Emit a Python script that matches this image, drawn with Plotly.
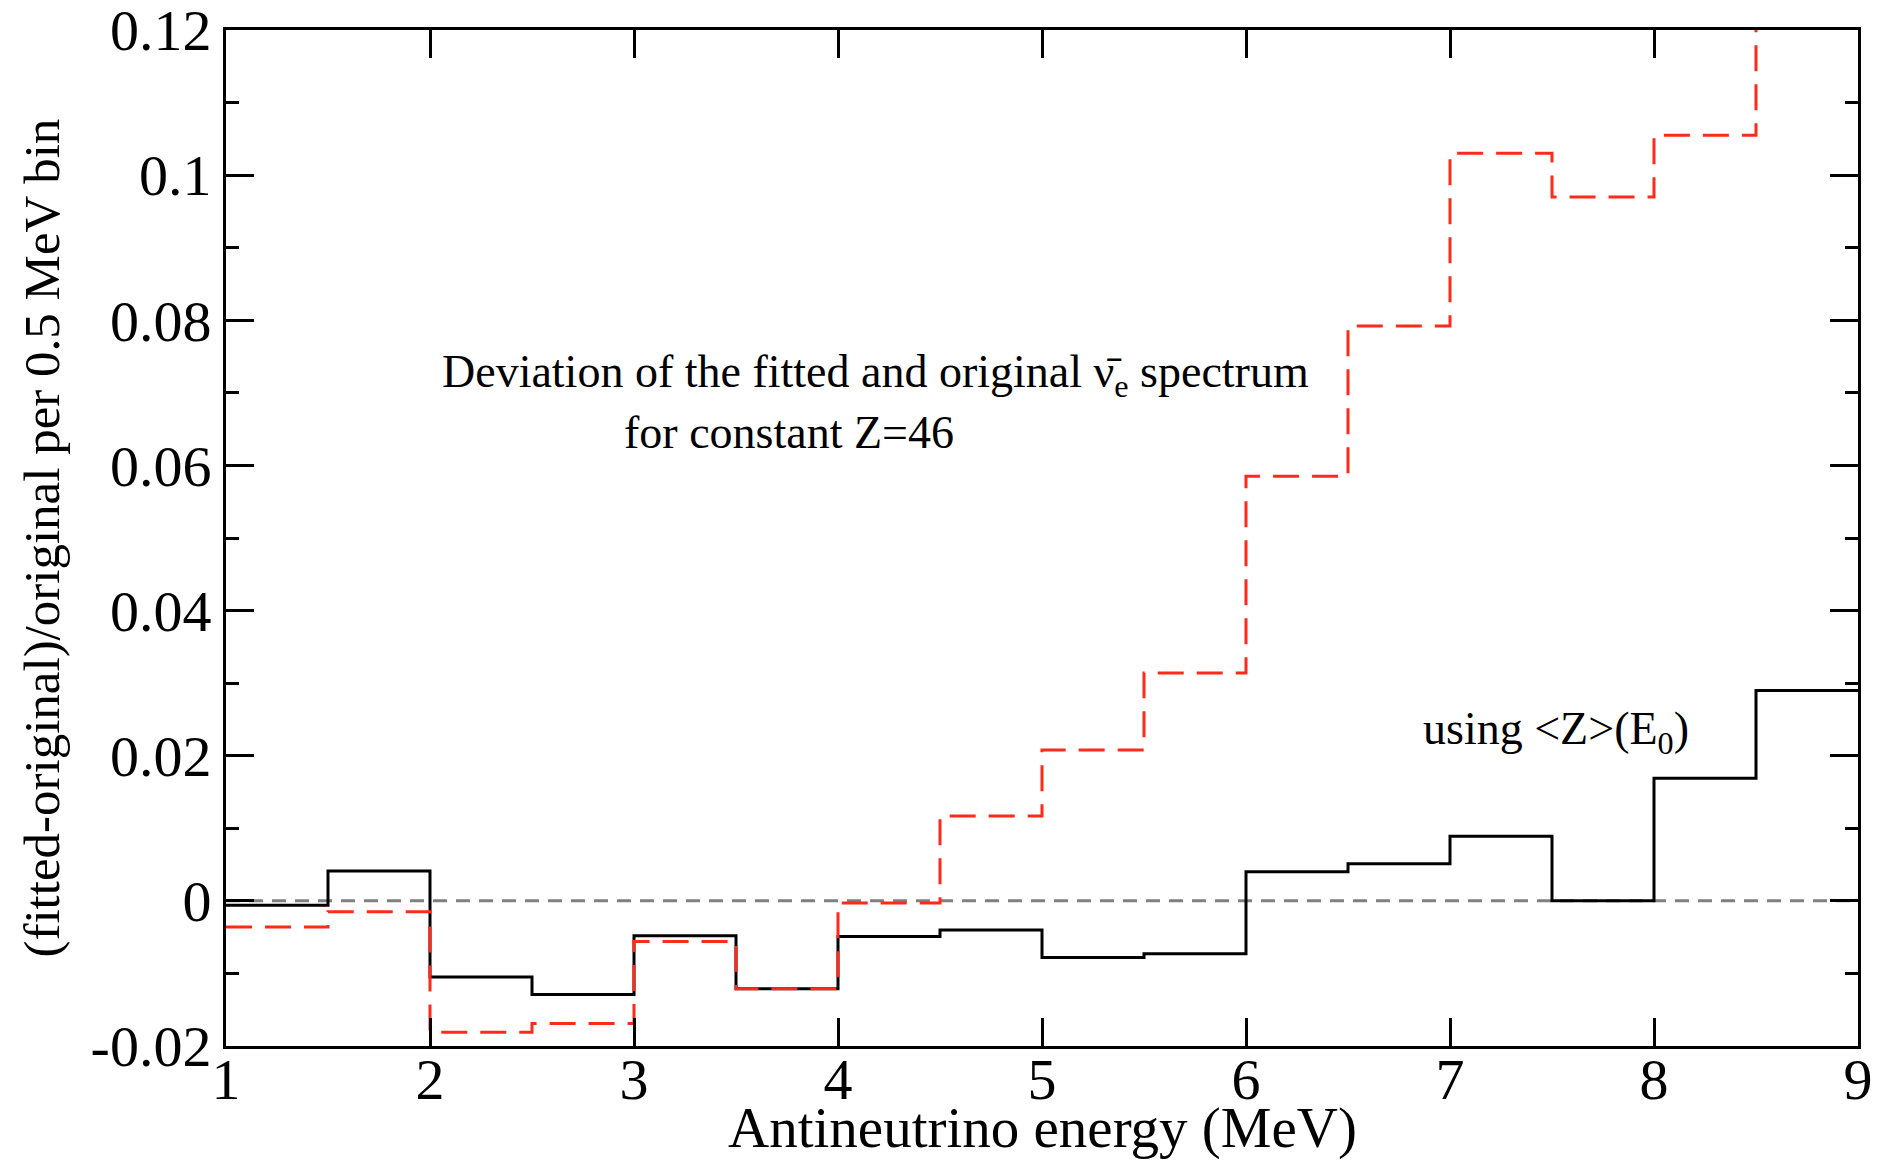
import plotly.graph_objects as go

# Bin edges (MeV), 0.5 MeV bins
bin_edges = [1.0, 1.5, 2.0, 2.5, 3.0, 3.5, 4.0, 4.5, 5.0, 5.5, 6.0, 6.5, 7.0, 7.5, 8.0, 8.5, 9.0]

# Relative deviation using <Z>(E0) (black solid)
dev_z_e0 = [-0.0006, 0.0041, -0.0105, -0.0129, -0.0048, -0.0121, -0.0049, -0.0040,
            -0.0078, -0.0073, 0.0040, 0.0051, 0.0089, 0.0000, 0.0169, 0.0290]

# Relative deviation for constant Z=46 (red dashed)
dev_z46 = [-0.0036, -0.0015, -0.0181, -0.0169, -0.0056, -0.0121, -0.0003, 0.0117,
           0.0208, 0.0314, 0.0585, 0.0792, 0.1030, 0.0970, 0.1055, 0.1300]

x_ticks = [1, 2, 3, 4, 5, 6, 7, 8, 9]
x_tick_labels = ["1", "2", "3", "4", "5", "6", "7", "8", "9"]
y_ticks = [-0.02, 0.0, 0.02, 0.04, 0.06, 0.08, 0.10, 0.12]
y_tick_labels = ["-0.02", "0", "0.02", "0.04", "0.06", "0.08", "0.1", "0.12"]

x_title = "Antineutrino energy (MeV)"
y_title = "(fitted-original)/original per 0.5 MeV bin"

FONT = "Liberation Serif"

fig = go.Figure()

fig.add_hline(y=0, line=dict(color="#808080", width=3, dash="14px,9px"), layer="below")

fig.add_trace(go.Scatter(
    x=bin_edges, y=dev_z_e0 + [dev_z_e0[-1]], mode="lines", line_shape="hv",
    line=dict(color="black", width=3), showlegend=False))

fig.add_trace(go.Scatter(
    x=bin_edges, y=dev_z46 + [dev_z46[-1]], mode="lines", line_shape="hv",
    line=dict(color="#ff2a1a", width=3, dash="26px,13px"), showlegend=False))

fig.add_annotation(
    text="Deviation of the fitted and original ν̄<sub>e</sub> spectrum",
    x=2.05, y=0.0725, xref="x", yref="y", showarrow=False, xanchor="left", yanchor="middle",
    font=dict(family=FONT, size=46, color="black"))
fig.add_annotation(
    text="for constant Z=46",
    x=3.76, y=0.0646, xref="x", yref="y", showarrow=False, xanchor="center", yanchor="middle",
    font=dict(family=FONT, size=46, color="black"))
fig.add_annotation(
    text="using &lt;Z&gt;(E<sub>0</sub>)",
    x=6.86, y=0.0232, xref="x", yref="y", showarrow=False, xanchor="left", yanchor="middle",
    font=dict(family=FONT, size=46, color="black"))

# axis titles
fig.add_annotation(
    text=x_title, x=0.5, y=-0.081, xref="paper", yref="paper", showarrow=False,
    xanchor="center", yanchor="middle", font=dict(family=FONT, size=57, color="black"))
fig.add_annotation(
    text=y_title, x=-0.113, y=0.5, xref="paper", yref="paper", showarrow=False, textangle=-90,
    xanchor="center", yanchor="middle", font=dict(family=FONT, size=51, color="black"))

fig.update_xaxes(
    range=[1, 9], tickvals=x_ticks, ticktext=x_tick_labels,
    ticks="inside", ticklen=28, tickwidth=3, tickcolor="black",
    showline=True, linewidth=3, linecolor="black", mirror="allticks",
    showgrid=False, zeroline=False, automargin=False,
    ticklabeloverflow="allow", ticklabelstandoff=-20,
    tickfont=dict(family=FONT, size=58, color="black"))

fig.update_yaxes(
    range=[-0.02, 0.12], tickvals=y_ticks, ticktext=y_tick_labels,
    ticks="inside", ticklen=28, tickwidth=3, tickcolor="black",
    minor=dict(dtick=0.01, tick0=0, ticks="inside", ticklen=13, tickwidth=3, tickcolor="black", showgrid=False),
    showline=True, linewidth=3, linecolor="black", mirror="allticks",
    showgrid=False, zeroline=False, automargin=False,
    ticklabeloverflow="allow",
    tickfont=dict(family=FONT, size=58, color="black"))

fig.update_layout(
    width=1881, height=1160,
    margin=dict(l=226, r=23, t=30, b=114),
    paper_bgcolor="white", plot_bgcolor="white",
    font=dict(family=FONT, color="black"))

fig.write_html("out.html")
